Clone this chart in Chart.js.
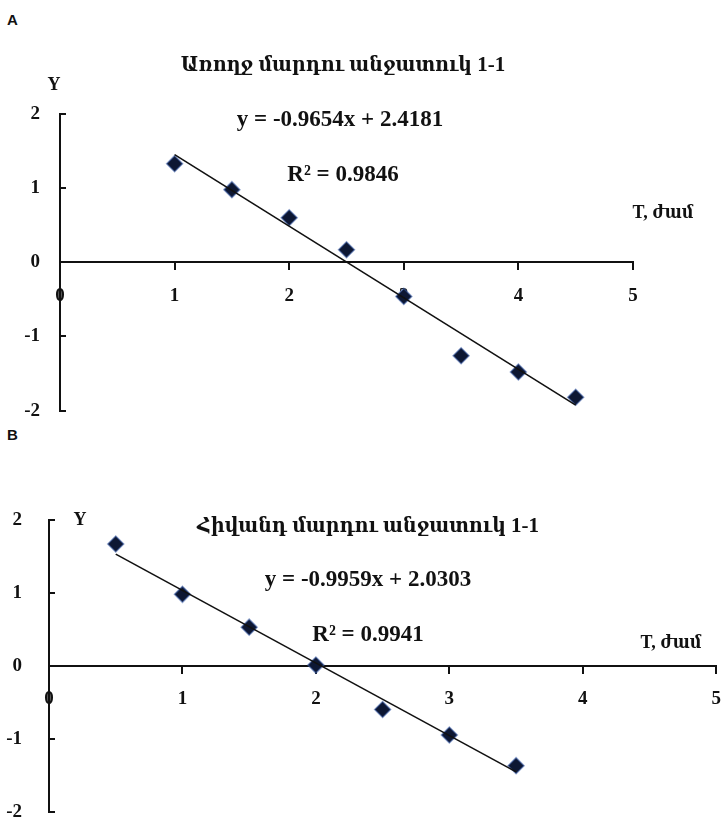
<!DOCTYPE html>
<html>
<head>
<meta charset="utf-8">
<script src="https://cdn.jsdelivr.net/npm/chart.js@4.4.1/dist/chart.umd.min.js"></script>
<style>
  body { margin: 0; background: #fff; width: 723px; height: 820px; position: relative; overflow: hidden; }
  canvas { position: absolute; left: 0; }
  .panel { position: absolute; left: 7px; font: bold 15px 'Liberation Sans', Arial, sans-serif; color: #111; }
</style>
</head>
<body>
<div class="panel" style="top:11px">A</div>
<div class="panel" style="top:426px">B</div>
<canvas id="chartA" width="723" height="448" style="top:0"></canvas>
<canvas id="chartB" width="736" height="416" style="top:440px"></canvas>
<script>
// A - առողջ մարդ
const timeA = [1, 1.5, 2, 2.5, 3, 3.5, 4, 4.5];
const valA = [1.33, 0.98, 0.6, 0.17, -0.46, -1.26, -1.48, -1.82];
const slopeA = -0.9654, interceptA = 2.4181, r2A = 0.9846;

// B - հիվանդ մարդ
const timeB = [0.5, 1, 1.5, 2, 2.5, 3, 3.5];
const valB = [1.67, 0.98, 0.53, 0.01, -0.6, -0.95, -1.37];
const slopeB = -0.9959, interceptB = 2.0303, r2B = 0.9941;

const xRange = [0, 5];
const yRange = [-2, 2];

const SERIF = "'Liberation Serif', 'DejaVu Serif Condensed', 'DejaVu Serif', serif";
const INK = '#111';

// texts drawn on top of the plot
const notesPlugin = {
  id: 'notes',
  afterDraw(chart, args, opts) {
    const ctx = chart.ctx;
    ctx.save();
    ctx.fillStyle = INK;
    ctx.textAlign = 'center';
    ctx.textBaseline = 'middle';
    opts.items.forEach(it => {
      ctx.font = it.font;
      ctx.fillText(it.text, it.x, it.y);
    });
    ctx.restore();
  }
};

function trendPoints(xs, m, b) {
  const x0 = xs[0], x1 = xs[xs.length - 1];
  return [{ x: x0, y: m * x0 + b }, { x: x1, y: m * x1 + b }];
}

function makeChart(id, xs, ys, m, b, r2, box, notes) {
  new Chart(document.getElementById(id), {
    type: 'scatter',
    data: {
      datasets: [
        {
          type: 'line',
          data: trendPoints(xs, m, b),
          borderColor: INK,
          borderWidth: 1.6,
          pointRadius: 0,
          fill: false
        },
        {
          data: xs.map((x, i) => ({ x: x, y: ys[i] })),
          pointStyle: 'rectRot',
          pointRadius: 8,
          backgroundColor: '#0d1733',
          borderColor: 'rgba(60,95,170,0.55)',
          borderWidth: 1.5
        }
      ]
    },
    options: {
      responsive: false,
      animation: false,
      layout: { padding: { left: 0, right: box.right, top: box.top, bottom: 0 } },
      plugins: {
        legend: { display: false },
        tooltip: { enabled: false },
        notes: { items: notes }
      },
      scales: {
        x: {
          type: 'linear',
          min: xRange[0], max: xRange[1],
          position: { y: 0 },
          border: { display: true, color: INK, width: 2 },
          grid: { drawOnChartArea: false, color: INK, lineWidth: 2, tickLength: 7 },
          ticks: { stepSize: 1, color: INK, padding: 15, font: { family: SERIF, size: 19, weight: 'bold' } }
        },
        y: {
          type: 'linear',
          min: yRange[0], max: yRange[1],
          position: 'left',
          afterFit: s => { s.width = box.left; },
          border: { display: true, color: INK, width: 2 },
          grid: { drawOnChartArea: false, color: INK, lineWidth: 2, tickLength: -6 },
          ticks: { stepSize: 1, color: INK, padding: box.labelGap, font: { family: SERIF, size: 19, weight: 'bold' } }
        }
      }
    },
    plugins: [notesPlugin]
  });
}

const eq = (m, b) => 'y = ' + m.toFixed(4) + 'x + ' + b.toFixed(4);
const rs = r2 => 'R\u00b2 = ' + r2.toFixed(4);
const titleFont = 'bold 21px ' + SERIF;
const eqFont = 'bold 23px ' + SERIF;
const axFont = 'bold 18px ' + SERIF;

makeChart('chartA', timeA, valA, slopeA, interceptA, r2A,
  { left: 60, right: 90, top: 114, labelGap: 26 },
  [
    { text: 'Առողջ մարդու անջատուկ 1-1', x: 343, y: 66, font: titleFont },
    { text: 'Y', x: 54, y: 85, font: axFont },
    { text: eq(slopeA, interceptA), x: 340, y: 120, font: eqFont },
    { text: rs(r2A), x: 343, y: 175, font: eqFont },
    { text: 'T, ժամ', x: 663, y: 213, font: axFont }
  ]);

makeChart('chartB', timeB, valB, slopeB, interceptB, r2B,
  { left: 49, right: 7, top: 80, labelGap: 33 },
  [
    { text: 'Հիվանդ մարդու անջատուկ 1-1', x: 368, y: 87, font: titleFont },
    { text: 'Y', x: 80, y: 80, font: axFont },
    { text: eq(slopeB, interceptB), x: 368, y: 140, font: eqFont },
    { text: rs(r2B), x: 368, y: 195, font: eqFont },
    { text: 'T, ժամ', x: 671, y: 203, font: axFont }
  ]);
</script>
</body>
</html>
